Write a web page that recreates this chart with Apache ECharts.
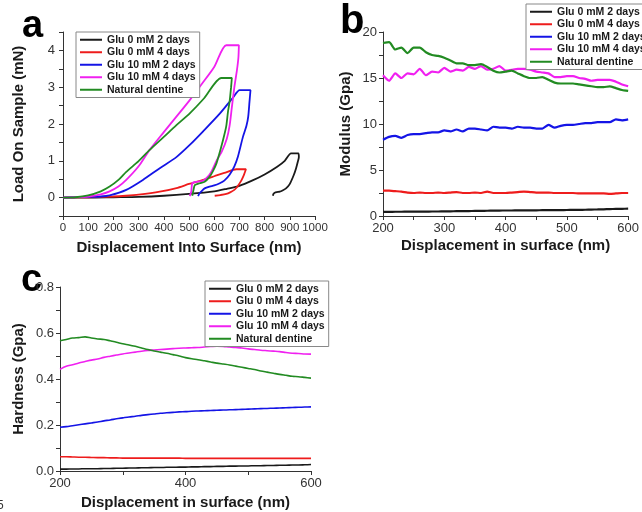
<!DOCTYPE html>
<html>
<head>
<meta charset="utf-8">
<script src="https://cdn.jsdelivr.net/npm/echarts@6/dist/echarts.min.js"></script>
<style>
  html, body { margin: 0; padding: 0; background: #fff; }
  #chart { width: 642px; height: 512px; }
</style>
</head>
<body>
<div id="chart"></div>
<script>
// series names, same for the three panels
const names = ['Glu 0 mM 2 days', 'Glu 0 mM 4 days', 'Glu 10 mM 2 days', 'Glu 10 mM 4 days', 'Natural dentine']
const colors = ['#1a1a1a', '#ee1c1c', '#1414e6', '#f020f0', '#228b22']

// panel a: load-displacement loops, [displacement nm, load mN]
const loadBlack = [[0, 0], [100, 0], [200, 0.01], [300, 0.02], [400, 0.05], [500, 0.1], [600, 0.17], [650, 0.24],
  [700, 0.32], [750, 0.46], [800, 0.63], [850, 0.84], [880, 1.0], [905, 1.2], [934, 1.2], [936, 1.1], [932, 0.98],
  [925, 0.8], [915, 0.6], [899, 0.36], [885, 0.25], [873, 0.2], [860, 0.16], [848, 0.15], [840, 0.13], [835, 0.1], [833, 0.05]]
const loadRed = [[0, 0], [100, 0.01], [200, 0.03], [250, 0.05], [300, 0.08], [384, 0.16], [450, 0.26], [500, 0.37],
  [550, 0.47], [600, 0.58], [640, 0.67], [688, 0.77], [726, 0.77], [718, 0.62], [708, 0.47], [700, 0.38], [690, 0.28],
  [680, 0.21], [665, 0.15], [648, 0.1], [625, 0.07], [602, 0.05]]
const loadBlue = [[0, 0], [100, 0.02], [150, 0.03], [185, 0.06], [251, 0.21], [317, 0.48], [384, 0.8], [450, 1.1],
  [503, 1.43], [556, 1.8], [622, 2.28], [675, 2.72], [701, 2.92], [744, 2.92], [740, 2.6], [735, 2.2], [728, 1.95],
  [714, 1.65], [694, 1.11], [680, 0.85], [661, 0.62], [640, 0.46], [622, 0.39], [600, 0.33], [582, 0.3], [562, 0.25],
  [549, 0.17], [540, 0.1], [536, 0.04]]
const loadMagenta = [[0, 0], [50, 0.01], [100, 0.03], [150, 0.09], [185, 0.17], [220, 0.3], [251, 0.48], [300, 0.85],
  [343, 1.29], [400, 1.78], [450, 2.2], [503, 2.65], [550, 3.08], [600, 3.55], [648, 4.14], [698, 4.14], [696, 3.8],
  [690, 3.45], [680, 3.0], [670, 2.45], [661, 1.95], [650, 1.6], [630, 1.25], [609, 1.0], [590, 0.72], [575, 0.57],
  [556, 0.46], [540, 0.44], [529, 0.43], [513, 0.39], [509, 0.16], [503, 0.04]]
const loadGreen = [[0, 0], [50, 0.01], [100, 0.06], [150, 0.17], [185, 0.3], [220, 0.48], [251, 0.7], [300, 0.99],
  [343, 1.29], [400, 1.65], [450, 1.97], [503, 2.29], [560, 2.7], [628, 3.25], [670, 3.25], [667, 3.0], [661, 2.6],
  [655, 2.35], [648, 1.95], [640, 1.7], [628, 1.38], [609, 0.93], [595, 0.72], [582, 0.57], [562, 0.43], [542, 0.39],
  [523, 0.34], [518, 0.21], [513, 0.05]]

// panels b and c: displacement in surface (nm)
const depth = [200, 210, 220, 230, 240, 250, 260, 270, 280, 290, 300, 310, 320, 330, 340, 350, 360, 370, 380, 390, 400,
  410, 420, 430, 440, 450, 460, 470, 480, 490, 500, 510, 520, 530, 540, 550, 560, 570, 580, 590, 600]

// panel b: modulus (GPa)
const modBlack = [0.45, 0.45, 0.46, 0.46, 0.47, 0.47, 0.48, 0.48, 0.49, 0.49, 0.5, 0.51, 0.52, 0.53, 0.54, 0.55, 0.56,
  0.57, 0.58, 0.59, 0.6, 0.6, 0.61, 0.61, 0.62, 0.62, 0.63, 0.63, 0.64, 0.64, 0.65, 0.66, 0.67, 0.68, 0.7, 0.71, 0.73,
  0.75, 0.77, 0.78, 0.8]
const modRed = [2.75, 2.75, 2.7, 2.65, 2.55, 2.5, 2.55, 2.5, 2.5, 2.55, 2.5, 2.55, 2.6, 2.5, 2.5, 2.55, 2.5, 2.65, 2.5,
  2.5, 2.5, 2.55, 2.6, 2.65, 2.6, 2.55, 2.55, 2.55, 2.5, 2.5, 2.5, 2.5, 2.45, 2.45, 2.45, 2.45, 2.45, 2.4, 2.45, 2.5, 2.5]
const modBlue = [8.3, 8.6, 8.7, 8.5, 8.8, 8.9, 8.9, 9.0, 9.1, 9.1, 9.3, 9.2, 9.4, 9.2, 9.5, 9.5, 9.4, 9.3, 9.7, 9.6, 9.6,
  9.5, 9.7, 9.6, 9.6, 9.5, 9.5, 9.9, 9.6, 9.8, 9.9, 9.9, 10.0, 10.1, 10.1, 10.2, 10.2, 10.2, 10.5, 10.4, 10.5]
const modMagenta = [15.3, 14.7, 15.5, 15.0, 15.5, 15.4, 16.0, 15.3, 15.7, 15.6, 16.1, 15.7, 15.9, 15.8, 16.2, 16.0, 16.3,
  15.9, 16.0, 16.3, 15.8, 15.9, 16.0, 16.0, 15.9, 15.7, 15.6, 15.5, 15.1, 15.1, 15.2, 15.2, 15.0, 14.9, 14.7, 14.8, 14.8,
  14.8, 14.6, 14.3, 14.1]
const modGreen = [18.8, 18.9, 18.1, 18.3, 17.7, 18.3, 18.3, 17.8, 17.5, 17.4, 17.2, 16.9, 16.6, 16.6, 16.4, 16.4, 16.5,
  16.2, 15.8, 15.6, 15.7, 15.8, 15.5, 15.2, 15.0, 15.0, 15.1, 14.8, 14.5, 14.4, 14.4, 14.4, 14.3, 14.2, 14.1, 14.0, 14.0,
  14.1, 13.9, 13.7, 13.6]

// panel c: hardness (GPa)
const hardBlack = [0.008, 0.008, 0.009, 0.009, 0.01, 0.01, 0.01, 0.011, 0.011, 0.012, 0.012, 0.013, 0.013, 0.014, 0.014,
  0.015, 0.015, 0.016, 0.016, 0.017, 0.017, 0.018, 0.018, 0.019, 0.019, 0.02, 0.02, 0.021, 0.021, 0.022, 0.022, 0.023,
  0.023, 0.024, 0.024, 0.025, 0.025, 0.026, 0.026, 0.027, 0.028]
const hardRed = [0.062, 0.062, 0.061, 0.06, 0.06, 0.059, 0.058, 0.058, 0.057, 0.057, 0.056, 0.056, 0.056, 0.056, 0.056,
  0.056, 0.056, 0.056, 0.056, 0.056, 0.055, 0.055, 0.055, 0.055, 0.055, 0.055, 0.055, 0.055, 0.055, 0.055, 0.055, 0.055,
  0.055, 0.055, 0.055, 0.055, 0.055, 0.055, 0.055, 0.055, 0.055]
const hardBlue = [0.19, 0.193, 0.197, 0.201, 0.205, 0.209, 0.213, 0.218, 0.222, 0.227, 0.231, 0.235, 0.238, 0.242, 0.245,
  0.248, 0.251, 0.253, 0.255, 0.257, 0.258, 0.26, 0.261, 0.262, 0.263, 0.264, 0.265, 0.266, 0.267, 0.268, 0.269, 0.27,
  0.271, 0.272, 0.273, 0.274, 0.275, 0.276, 0.277, 0.278, 0.279]
const hardMagenta = [0.442, 0.455, 0.462, 0.47, 0.476, 0.482, 0.487, 0.494, 0.499, 0.504, 0.509, 0.513, 0.517, 0.521,
  0.524, 0.526, 0.528, 0.53, 0.532, 0.534, 0.535, 0.536, 0.537, 0.539, 0.541, 0.543, 0.542, 0.539, 0.537, 0.535, 0.531,
  0.528, 0.525, 0.523, 0.521, 0.519, 0.515, 0.512, 0.511, 0.509, 0.508]
const hardGreen = [0.566, 0.572, 0.578, 0.58, 0.583, 0.578, 0.574, 0.572, 0.566, 0.56, 0.553, 0.548, 0.542, 0.535, 0.528,
  0.522, 0.517, 0.512, 0.506, 0.5, 0.493, 0.488, 0.484, 0.479, 0.474, 0.469, 0.465, 0.461, 0.456, 0.451, 0.446, 0.441,
  0.435, 0.43, 0.425, 0.42, 0.416, 0.412, 0.41, 0.407, 0.404]

const loads = [loadBlack, loadRed, loadBlue, loadMagenta, loadGreen]
const moduli = [modBlack, modRed, modBlue, modMagenta, modGreen]
const hardness = [hardBlack, hardRed, hardBlue, hardMagenta, hardGreen]

const font = 'Liberation Sans, Arial, sans-serif'
const pair = (ys) => depth.map((x, i) => [x, ys[i]])

function axisBase(extra) {
  return Object.assign({
    type: 'value',
    splitLine: { show: false },
    axisLine: { show: true, onZero: false, lineStyle: { color: '#333', width: 1 } },
    axisTick: { show: true, length: 4, lineStyle: { color: '#333' } },
    axisLabel: { color: '#333', fontSize: 13, fontFamily: font, margin: 6 },
    nameLocation: 'middle',
    nameTextStyle: { color: '#1a1a1a', fontSize: 15, fontWeight: 'bold', fontFamily: font }
  }, extra)
}

function legendAt(left, top) {
  return {
    data: names,
    orient: 'vertical',
    left: left,
    top: top,
    icon: 'rect',
    itemWidth: 22,
    itemHeight: 2,
    itemGap: 1,
    padding: [2, 4, 2, 4],
    borderColor: '#888',
    borderWidth: 1,
    backgroundColor: '#fff',
    textStyle: { color: '#1a1a1a', fontSize: 10.5, fontWeight: 'bold', fontFamily: font, lineHeight: 11.5 }
  }
}

const series = []
names.forEach((name, i) => {
  series.push({ name, type: 'line', xAxisIndex: 0, yAxisIndex: 0, data: loads[i], showSymbol: false, smooth: 0.25,
    lineStyle: { color: colors[i], width: 1.8 }, itemStyle: { color: colors[i] }, z: 2 })
  series.push({ name, type: 'line', xAxisIndex: 1, yAxisIndex: 1, data: pair(moduli[i]), showSymbol: false, smooth: 0.2,
    lineStyle: { color: colors[i], width: 2.2 }, itemStyle: { color: colors[i] }, z: 2 })
  series.push({ name, type: 'line', xAxisIndex: 2, yAxisIndex: 2, data: pair(hardness[i]), showSymbol: false, smooth: 0.3,
    lineStyle: { color: colors[i], width: 1.6 }, itemStyle: { color: colors[i] }, z: 2 })
})

const chart = echarts.init(document.getElementById('chart'))
chart.setOption({
  animation: false,
  backgroundColor: '#fff',
  grid: [
    { left: 63, top: 32, width: 252, height: 184 },
    { left: 383, top: 32, width: 249, height: 184 },
    { left: 60, top: 287, width: 251, height: 184 }
  ],
  legend: [legendAt(76, 32), legendAt(526, 4), legendAt(205, 281)],
  xAxis: [
    axisBase({ gridIndex: 0, min: 0, max: 1000, interval: 100, name: 'Displacement Into Surface (nm)', nameGap: 24,
      axisLabel: { color: '#333', fontSize: 11.5, fontFamily: font, margin: 6, hideOverlap: false,
        showMinLabel: true, showMaxLabel: true, formatter: (v) => String(v) } }),
    axisBase({ gridIndex: 1, min: 200, max: 600, interval: 50, name: 'Displacement in surface (nm)', nameGap: 22,
      axisLabel: { color: '#333', fontSize: 13, fontFamily: font, margin: 6,
        formatter: (v) => (v % 100 === 0 ? String(v) : '') } }),
    axisBase({ gridIndex: 2, min: 200, max: 600, interval: 100, name: 'Displacement in surface (nm)', nameGap: 24,
      axisLabel: { color: '#333', fontSize: 13, fontFamily: font, margin: 6,
        formatter: (v) => (v % 200 === 0 ? String(v) : '') } })
  ],
  yAxis: [
    axisBase({ gridIndex: 0, min: -0.5, max: 4.5, interval: 0.5, name: 'Load On Sample (mN)', nameGap: 37,
      axisLabel: { color: '#333', fontSize: 13, fontFamily: font, margin: 8,
        formatter: (v) => (Number.isInteger(v) ? String(v) : '') } }),
    axisBase({ gridIndex: 1, min: 0, max: 20, interval: 2.5, name: 'Modulus (Gpa)', nameGap: 30,
      axisLabel: { color: '#333', fontSize: 13, fontFamily: font, margin: 6,
        formatter: (v) => (v % 5 === 0 ? String(v) : '') } }),
    axisBase({ gridIndex: 2, min: 0, max: 0.8, interval: 0.1, name: 'Hardness (Gpa)', nameGap: 34,
      axisLabel: { color: '#333', fontSize: 13, fontFamily: font, margin: 6,
        formatter: (v) => (Math.round(v * 10) % 2 === 0 ? v.toFixed(1) : '') } })
  ],
  graphic: [
    { type: 'text', left: 22, top: 8, style: { text: 'a', font: 'bold 38px ' + font, fill: '#000' } },
    { type: 'text', left: 340, top: 2, style: { text: 'b', font: 'bold 40px ' + font, fill: '#000' } },
    { type: 'text', left: 21, top: 262, style: { text: 'c', font: 'bold 38px ' + font, fill: '#000' } },
    { type: 'text', left: -3, top: 500, style: { text: '5', font: '12px ' + font, fill: '#333' } }
  ],
  series: series
})
</script>
</body>
</html>
